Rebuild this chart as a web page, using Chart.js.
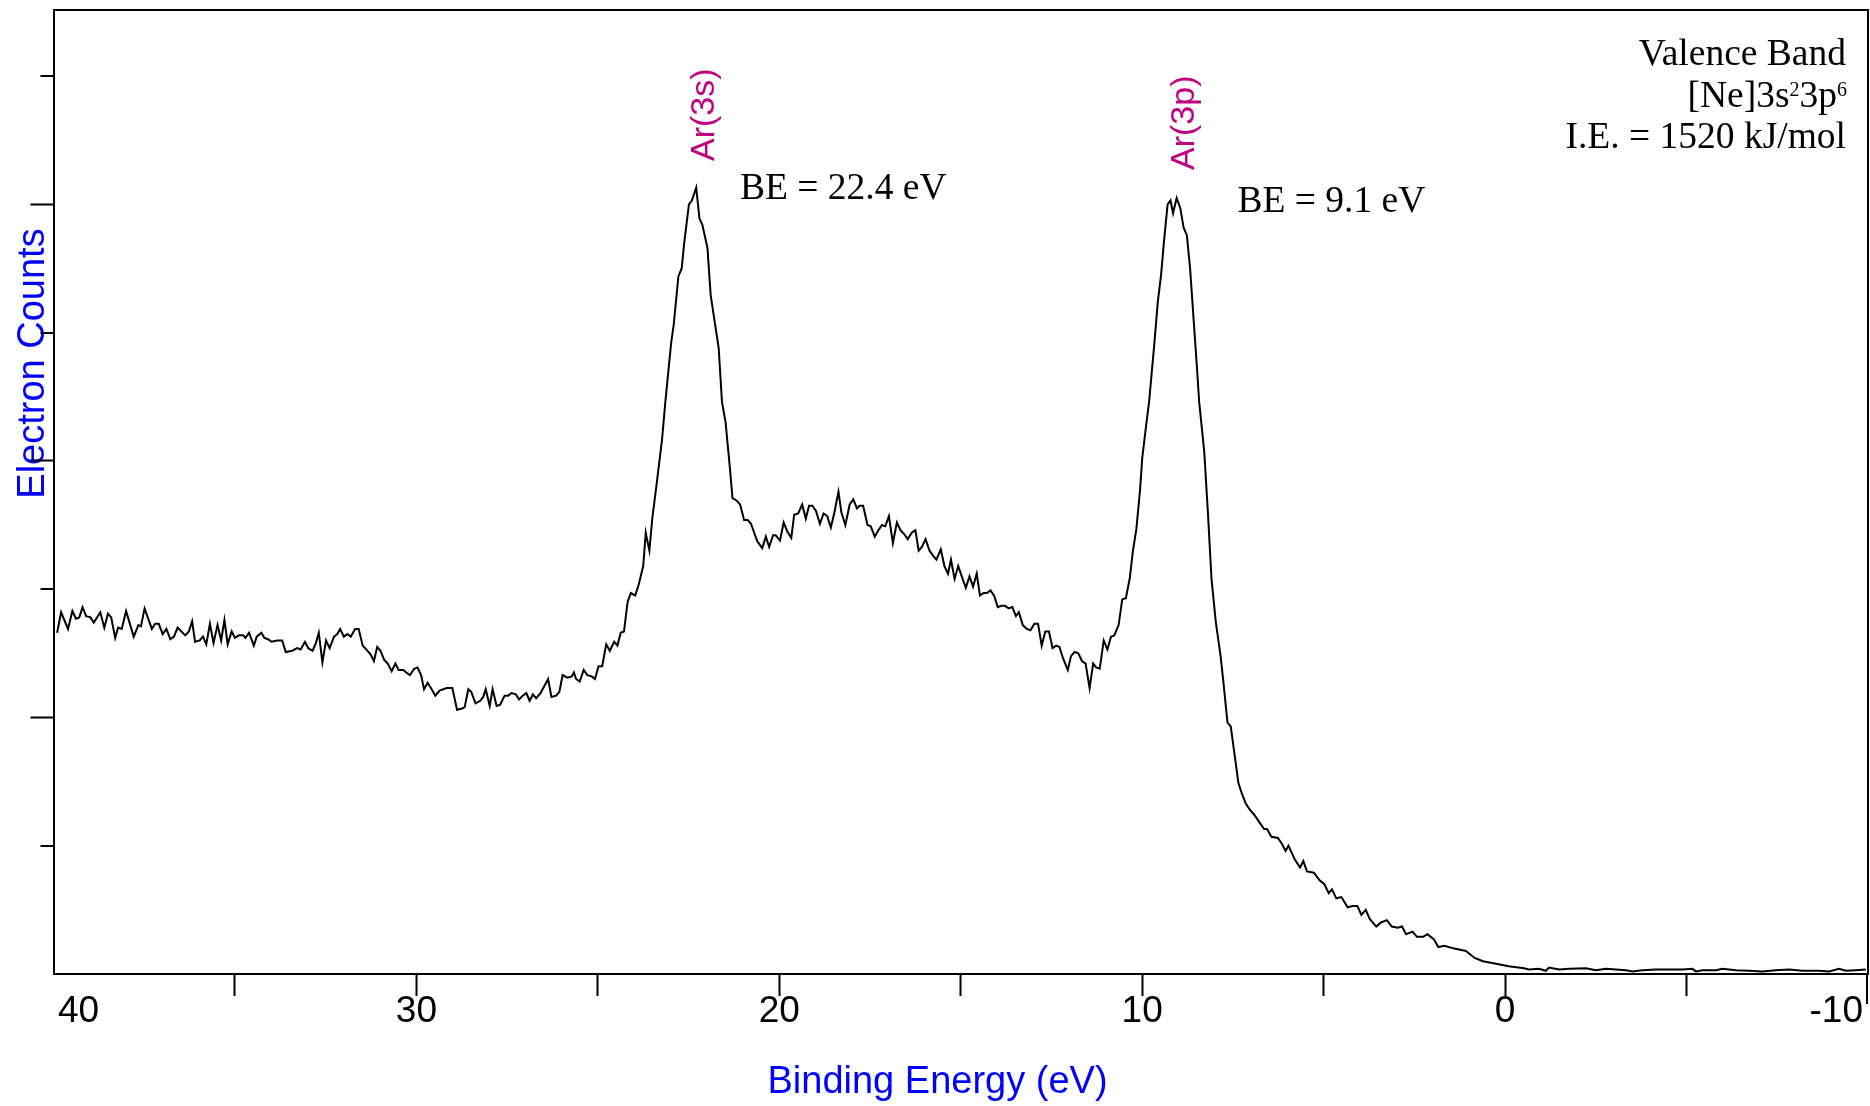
<!DOCTYPE html>
<html>
<head>
<meta charset="utf-8">
<script src="https://cdn.jsdelivr.net/npm/chart.js@4/dist/chart.umd.min.js"></script>
<style>
  html, body { margin: 0; padding: 0; background: #ffffff; }
  canvas { display: block; }
</style>
</head>
<body>
<canvas id="c" width="1870" height="1106"></canvas>
<script>
// ---- data (binding energy in eV, electron counts in arbitrary units) ----
const energyEV = [
  39.90, 39.79, 39.60, 39.48, 39.38, 39.29, 39.20, 39.10, 38.98, 38.89, 38.71, 38.60, 38.50, 38.41, 38.30, 38.22, 38.12, 38.00,
  37.79, 37.66, 37.59, 37.49, 37.29, 37.20, 37.10, 36.99, 36.89, 36.78, 36.68, 36.58, 36.37, 36.27, 36.18, 36.10,
  35.97, 35.88, 35.79, 35.69, 35.59, 35.48, 35.38, 35.29, 35.20, 35.09, 35.00, 34.89, 34.77, 34.71, 34.61, 34.48,
  34.40, 34.27, 34.19, 34.09, 33.99, 33.84, 33.70, 33.60, 33.42, 33.29, 33.19, 33.07, 32.98, 32.86, 32.77, 32.69,
  32.59, 32.49, 32.39, 32.27, 32.18, 32.10, 32.00, 31.90, 31.81, 31.69, 31.59, 31.48, 31.38, 31.26, 31.17, 31.08,
  30.99, 30.89, 30.79, 30.68, 30.58, 30.49, 30.36, 30.28, 30.18, 30.06, 29.97, 29.87, 29.79, 29.69, 29.58, 29.48,
  29.36, 29.17, 29.01, 28.88, 28.74, 28.67, 28.57, 28.49, 28.37, 28.24, 28.16, 28.09, 27.98, 27.90, 27.79, 27.69,
  27.57, 27.47, 27.38, 27.26, 27.17, 27.07, 26.97, 26.88, 26.79, 26.70, 26.58, 26.37, 26.28, 26.15, 26.06, 25.97,
  25.84, 25.72, 25.66, 25.60, 25.50, 25.39, 25.29, 25.17, 25.08, 24.98, 24.88, 24.77, 24.67, 24.55, 24.46, 24.37,
  24.28, 24.18, 24.09, 23.97, 23.87, 23.75, 23.68, 23.58, 23.50, 23.38, 23.23, 23.14, 22.98, 22.91, 22.78, 22.69,
  22.62, 22.49, 22.41, 22.29, 22.20, 22.12, 21.98, 21.89, 21.67, 21.58, 21.48, 21.36, 21.29, 21.17, 21.08, 20.97,
  20.87, 20.78, 20.68, 20.60, 20.47, 20.37, 20.28, 20.17, 20.10, 19.98, 19.88, 19.78, 19.67, 19.59, 19.48, 19.37,
  19.27, 19.18, 19.09, 18.99, 18.88, 18.78, 18.68, 18.58, 18.48, 18.37, 18.29, 18.18, 18.06, 17.96, 17.86, 17.79,
  17.69, 17.57, 17.48, 17.37, 17.27, 17.17, 17.08, 16.98, 16.87, 16.76, 16.66, 16.56, 16.46, 16.35, 16.25, 16.16,
  16.07, 15.97, 15.86, 15.76, 15.67, 15.55, 15.45, 15.35, 15.27, 15.17, 15.07, 14.96, 14.86, 14.76, 14.66, 14.56,
  14.47, 14.37, 14.28, 14.18, 14.08, 13.98, 13.88, 13.78, 13.68, 13.58, 13.48, 13.40, 13.29, 13.18, 13.08, 12.97,
  12.87, 12.77, 12.67, 12.57, 12.47, 12.37, 12.28, 12.18, 12.05, 11.96, 11.86, 11.76, 11.66, 11.56, 11.45, 11.35,
  11.27, 11.17, 11.06, 10.96, 10.86, 10.77, 10.65, 10.55, 10.45, 10.34, 10.26, 10.16, 10.06, 10.00, 9.89, 9.81,
  9.67, 9.57, 9.48, 9.40, 9.30, 9.22, 9.15, 9.05, 8.95, 8.86, 8.77, 8.68, 8.58, 8.49, 8.43, 8.29,
  8.19, 8.09, 7.97, 7.84, 7.76, 7.65, 7.56, 7.45, 7.35, 7.27, 7.15, 7.03, 6.91, 6.74, 6.64, 6.56,
  6.44, 6.26, 6.14, 6.05, 5.97, 5.79, 5.65, 5.56, 5.46, 5.27, 5.11, 4.98, 4.86, 4.77, 4.65, 4.51,
  4.34, 4.20, 4.07, 3.96, 3.84, 3.73, 3.55, 3.43, 3.26, 3.12, 2.96, 2.84, 2.73, 2.55, 2.43, 2.26,
  2.14, 1.96, 1.84, 1.67, 1.43, 1.08, 0.84, 0.61, 0.25, -0.10, -0.52, -0.66, -0.94, -1.12, -1.21, -1.49,
  -1.77, -2.23, -2.50, -2.78, -3.05, -3.33, -3.51, -3.78, -4.15, -4.52, -4.89, -5.16, -5.26, -5.44, -5.81, -5.99,
  -6.36, -6.72, -7.09, -7.46, -7.83, -8.19, -8.65, -8.93, -9.20, -9.39, -9.66, -9.94
];
const electronCounts = [
  2.66, 2.82, 2.69, 2.83, 2.77, 2.78, 2.86, 2.79, 2.78, 2.74, 2.82, 2.70, 2.81, 2.78, 2.62, 2.70, 2.69, 2.83,
  2.63, 2.72, 2.71, 2.85, 2.69, 2.73, 2.73, 2.65, 2.69, 2.61, 2.63, 2.70, 2.64, 2.67, 2.75, 2.59,
  2.60, 2.63, 2.57, 2.73, 2.58, 2.72, 2.60, 2.76, 2.57, 2.67, 2.62, 2.64, 2.64, 2.62, 2.66, 2.56,
  2.63, 2.66, 2.62, 2.61, 2.59, 2.60, 2.60, 2.51, 2.52, 2.54, 2.53, 2.59, 2.54, 2.52, 2.58, 2.66,
  2.43, 2.60, 2.54, 2.63, 2.65, 2.69, 2.63, 2.65, 2.63, 2.69, 2.69, 2.56, 2.53, 2.49, 2.44, 2.55,
  2.52, 2.45, 2.42, 2.36, 2.42, 2.37, 2.37, 2.35, 2.33, 2.38, 2.39, 2.33, 2.22, 2.27, 2.22, 2.17,
  2.21, 2.23, 2.23, 2.06, 2.07, 2.08, 2.22, 2.20, 2.11, 2.13, 2.16, 2.22, 2.09, 2.22, 2.09, 2.10,
  2.17, 2.17, 2.19, 2.18, 2.14, 2.17, 2.19, 2.13, 2.18, 2.15, 2.19, 2.30, 2.16, 2.17, 2.20, 2.33,
  2.31, 2.32, 2.35, 2.30, 2.28, 2.37, 2.33, 2.32, 2.30, 2.40, 2.40, 2.57, 2.52, 2.59, 2.56, 2.66,
  2.67, 2.90, 2.97, 2.95, 3.04, 3.18, 3.44, 3.30, 3.55, 3.82, 4.17, 4.46, 4.92, 5.06, 5.44, 5.50,
  5.70, 6.00, 6.03, 6.13, 5.89, 5.84, 5.66, 5.29, 4.88, 4.46, 4.30, 3.94, 3.71, 3.69, 3.66, 3.54,
  3.54, 3.51, 3.43, 3.37, 3.32, 3.41, 3.33, 3.42, 3.42, 3.38, 3.52, 3.45, 3.40, 3.58, 3.59, 3.66,
  3.55, 3.65, 3.65, 3.61, 3.51, 3.59, 3.57, 3.48, 3.60, 3.76, 3.60, 3.50, 3.66, 3.70, 3.63, 3.65,
  3.65, 3.50, 3.49, 3.41, 3.46, 3.50, 3.49, 3.57, 3.36, 3.52, 3.46, 3.43, 3.39, 3.44, 3.46, 3.30,
  3.33, 3.39, 3.30, 3.26, 3.23, 3.31, 3.18, 3.12, 3.23, 3.08, 3.18, 3.09, 3.01, 3.10, 3.02, 3.12,
  2.95, 2.97, 2.97, 2.99, 2.95, 2.86, 2.87, 2.87, 2.85, 2.86, 2.79, 2.82, 2.72, 2.69, 2.68, 2.73,
  2.73, 2.56, 2.67, 2.67, 2.54, 2.56, 2.55, 2.46, 2.37, 2.48, 2.51, 2.50, 2.44, 2.42, 2.23, 2.42,
  2.39, 2.38, 2.60, 2.53, 2.63, 2.64, 2.72, 2.92, 2.93, 3.09, 3.29, 3.47, 3.77, 4.02, 4.28, 4.46,
  4.90, 5.24, 5.45, 5.71, 6.00, 6.03, 5.93, 6.05, 5.97, 5.82, 5.76, 5.50, 5.09, 4.72, 4.46, 4.07,
  3.60, 3.08, 2.74, 2.48, 2.27, 1.96, 1.93, 1.70, 1.49, 1.42, 1.33, 1.28, 1.24, 1.17, 1.13, 1.13,
  1.07, 1.06, 1.01, 0.96, 1.00, 0.89, 0.83, 0.88, 0.80, 0.79, 0.73, 0.70, 0.63, 0.66, 0.59, 0.60,
  0.52, 0.53, 0.53, 0.46, 0.50, 0.43, 0.37, 0.40, 0.42, 0.37, 0.36, 0.37, 0.31, 0.33, 0.29, 0.29,
  0.31, 0.27, 0.21, 0.22, 0.20, 0.18, 0.125, 0.10, 0.08, 0.06, 0.045, 0.035, 0.04, 0.025, 0.05, 0.035,
  0.04, 0.045, 0.03, 0.04, 0.035, 0.03, 0.02, 0.03, 0.035, 0.035, 0.035, 0.04, 0.02, 0.03, 0.03, 0.04,
  0.03, 0.025, 0.02, 0.03, 0.035, 0.025, 0.025, 0.02, 0.04, 0.025, 0.03, 0.035
];
const xLabeledTicks = [40, 30, 20, 10, 0, -10];
const xRange = [-10, 40];
const yRange = [0, 7.515];

const xAxisTitle = 'Binding Energy (eV)';
const yAxisTitle = 'Electron Counts';
const peakLabels = ['Ar(3s)', 'Ar(3p)'];
const peakEnergies = ['BE = 22.4 eV', 'BE = 9.1 eV'];
const infoLines = ['Valence Band', '[Ne]3s', '2', '3p', '6', 'I.E. = 1520 kJ/mol'];

const points = energyEV.map((e, i) => ({ x: e, y: electronCounts[i] }));

const SANS = '"Liberation Sans", Arial, sans-serif';
const SERIF = '"Liberation Serif", "Times New Roman", serif';
const BLUE = '#0000ff';
const MAGENTA = '#bf0080';
const TICK_FONT = 37, TICK_LEN_X = 22, TICK_PAD_X = -3;

const decor = {
  id: 'decor',
  beforeDraw(chart) {
    const ctx = chart.ctx;
    ctx.save();
    // axis titles
    ctx.fillStyle = BLUE;
    ctx.font = '38px ' + SANS;
    ctx.textBaseline = 'alphabetic';
    ctx.textAlign = 'center';
    ctx.fillText(xAxisTitle, 937.5, 1093);
    ctx.save();
    ctx.translate(43.5, 363.5);
    ctx.rotate(-Math.PI / 2);
    ctx.fillText(yAxisTitle, 0, 0);
    ctx.restore();
    // peak labels (rotated)
    ctx.fillStyle = MAGENTA;
    ctx.font = '34px ' + SANS;
    ctx.textAlign = 'left';
    ctx.save(); ctx.translate(713.5, 161); ctx.rotate(-Math.PI / 2); ctx.fillText(peakLabels[0], 0, 0); ctx.restore();
    ctx.save(); ctx.translate(1193.5, 170); ctx.rotate(-Math.PI / 2); ctx.fillText(peakLabels[1], 0, 0); ctx.restore();
    // binding energy notes
    ctx.fillStyle = '#000';
    ctx.font = '37.5px ' + SERIF;
    ctx.fillText(peakEnergies[0], 740, 199);
    ctx.fillText(peakEnergies[1], 1237.5, 211.5);
    // info block, right aligned
    ctx.textAlign = 'right';
    ctx.fillText(infoLines[0], 1846, 65);
    ctx.fillText(infoLines[5], 1846, 148.3);
    // [Ne]3s^2 3p^6 with superscripts
    const right = 1847, base = 106.7, supBase = 96;
    const bigF = '37.5px ' + SERIF, supF = '20px ' + SERIF;
    ctx.textAlign = 'left';
    ctx.font = supF; const w6 = ctx.measureText(infoLines[4]).width; const w2 = ctx.measureText(infoLines[2]).width;
    ctx.font = bigF; const w3p = ctx.measureText(infoLines[3]).width; const wNe = ctx.measureText(infoLines[1]).width;
    let x = right - w6;
    ctx.font = supF; ctx.fillText(infoLines[4], x, supBase);
    x -= w3p; ctx.font = bigF; ctx.fillText(infoLines[3], x, base);
    x -= w2; ctx.font = supF; ctx.fillText(infoLines[2], x, supBase);
    x -= wNe; ctx.font = bigF; ctx.fillText(infoLines[1], x, base);
    ctx.restore();
  },
  afterDraw(chart) {
    const {ctx, chartArea} = chart;
    const y = chart.scales.y, xs = chart.scales.x;
    ctx.save();
    // short (minor) ticks on the y axis at odd values
    ctx.strokeStyle = '#000';
    ctx.lineWidth = 2;
    y.ticks.forEach(t => {
      if (Number.isInteger(t.value) && t.value % 2 !== 0) {
        const py = Math.round(y.getPixelForValue(t.value));
        ctx.beginPath();
        ctx.moveTo(chartArea.left - 13, py);
        ctx.lineTo(chartArea.left, py);
        ctx.stroke();
      }
    });
    // right frame line continues below the axis at -10
    const rx = Math.round(xs.getPixelForValue(xRange[0])) - 1;
    ctx.beginPath();
    ctx.moveTo(rx, chartArea.bottom);
    ctx.lineTo(rx, chartArea.bottom + 30);
    ctx.stroke();
    // end labels of the x axis, kept inside the frame
    ctx.fillStyle = '#000';
    ctx.font = TICK_FONT + 'px ' + SANS;
    ctx.textBaseline = 'middle';
    const ly = xs.top + TICK_LEN_X + TICK_PAD_X + TICK_FONT / 2;
    ctx.textAlign = 'left';
    ctx.fillText(String(xRange[1]), xs.getPixelForValue(xRange[1]) + 4.5, ly);
    ctx.textAlign = 'right';
    ctx.fillText(String(xRange[0]), xs.getPixelForValue(xRange[0]) - 5, ly);
    ctx.restore();
  }
};

new Chart(document.getElementById('c'), {
  type: 'line',
  data: {
    datasets: [{
      data: points,
      borderColor: '#000',
      borderWidth: 2,
      pointRadius: 0,
      tension: 0,
      fill: false
    }]
  },
  options: {
    responsive: false,
    devicePixelRatio: 1,
    animation: false,
    layout: { padding: { left: 30.5, top: 10, right: 2, bottom: 79 } },
    plugins: { legend: { display: false }, tooltip: { enabled: false }, title: { display: false } },
    scales: {
      x: {
        type: 'linear',
        position: 'bottom',
        reverse: true,
        min: xRange[0],
        max: xRange[1],
        grid: {
          display: true, drawOnChartArea: false, drawTicks: true, tickLength: TICK_LEN_X, tickWidth: 2,
          tickColor: (c) => (c.tick && c.tick.value > xRange[0] && c.tick.value < xRange[1]) ? '#000' : 'rgba(0,0,0,0)'
        },
        border: { display: true, color: '#000', width: 2 },
        ticks: {
          stepSize: 5,
          autoSkip: false,
          maxRotation: 0,
          padding: TICK_PAD_X,
          color: '#000',
          font: { family: SANS, size: TICK_FONT, lineHeight: 1 },
          callback: (v) => (xLabeledTicks.includes(v) && v !== xRange[0] && v !== xRange[1]) ? String(v) : ''
        }
      },
      y: {
        type: 'linear',
        position: 'left',
        min: yRange[0],
        max: yRange[1],
        grid: {
          display: true, drawOnChartArea: false, drawTicks: true, tickLength: 23, tickWidth: 2,
          tickColor: (c) => (c.tick && Number.isInteger(c.tick.value) && c.tick.value > 0 && c.tick.value % 2 === 0) ? '#000' : 'rgba(0,0,0,0)'
        },
        border: { display: true, color: '#000', width: 2 },
        ticks: { stepSize: 1, display: false }
      },
      xTop: {
        type: 'linear', position: 'top', min: xRange[0], max: xRange[1], reverse: true,
        grid: { display: false, drawTicks: false }, border: { display: true, color: '#000', width: 2 }, ticks: { display: false }
      },
      yRight: {
        type: 'linear', position: 'right', min: yRange[0], max: yRange[1],
        grid: { display: false, drawTicks: false }, border: { display: true, color: '#000', width: 2 }, ticks: { display: false }
      }
    }
  },
  plugins: [decor]
});
</script>
</body>
</html>
